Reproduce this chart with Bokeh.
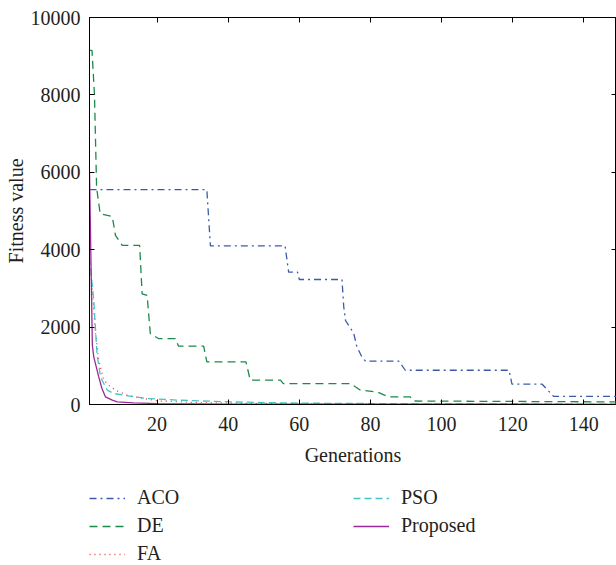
from bokeh.plotting import figure
from bokeh.models import Range1d, LinearAxis, FixedTicker, Legend, LegendItem
from bokeh.layouts import column
from bokeh.embed import file_html
from bokeh.resources import INLINE

# ---- data ----
aco_x = [1, 34, 35, 56, 57, 59.5, 60, 72, 72.5, 73, 75.3, 76.2, 77.6, 78.6, 88, 89.8, 119, 119.8, 128.3, 131.5, 150]
aco_y = [5550, 5550, 4100, 4100, 3420, 3420, 3230, 3230, 2520, 2170, 1840, 1490, 1230, 1120, 1120, 885, 885, 525, 525, 210, 210]

de_x = [1, 1.7, 2.4, 3, 4, 7.4, 8.3, 10.2, 15.1, 15.8, 17.2, 18.1, 20.5, 25.2, 26, 33.1, 34, 45, 46.2, 54.7, 55.5, 74.4, 77.2, 81.9, 85.1, 91.2, 92.2, 150]
de_y = [9150, 9150, 8000, 5600, 4930, 4860, 4370, 4110, 4110, 2860, 2820, 1830, 1700, 1700, 1510, 1510, 1100, 1100, 630, 630, 540, 540, 370, 325, 196, 196, 90, 67]

fa_x = [1, 2.7, 3.6, 5, 6.9, 8.8, 11.6, 16.2, 20, 30, 40, 60, 80, 100, 150]
fa_y = [3900, 1830, 1140, 630, 455, 350, 240, 155, 95, 55, 35, 20, 12, 8, 5]

pso_x = [1, 2.2, 3.1, 4.1, 6, 7.8, 10.6, 17.2, 26.6, 40.6, 60, 80, 100, 150]
pso_y = [3780, 2690, 1320, 710, 370, 285, 240, 155, 110, 67, 35, 25, 15, 10]

prop_x = [1, 1.8, 2.2, 3.6, 4.5, 5.5, 7.4, 8.8, 13.4, 20, 40, 150]
prop_y = [6000, 1530, 1230, 713, 413, 196, 111, 67, 41, 25, 12, 5]

series_names = ["ACO", "DE", "FA", "PSO", "Proposed"]
x_ticks = [20, 40, 60, 80, 100, 120, 140]
y_ticks = [0, 2000, 4000, 6000, 8000, 10000]

FONT = "Liberation Serif"
TXT = "#231f20"
styles = {
    "ACO": dict(line_color="#3b5ba9", line_width=1.3, line_dash="7 4 2 4"),
    "DE": dict(line_color="#1b8a4a", line_width=1.3, line_dash="8 5"),
    "FA": dict(line_color="#ee3a3a", line_width=1.3, line_dash="1 4"),
    "PSO": dict(line_color="#45c3c6", line_width=1.3, line_dash="7 4"),
    "Proposed": dict(line_color="#9b2a96", line_width=1.3, line_dash="solid"),
}
data = {"ACO": (aco_x, aco_y), "DE": (de_x, de_y), "FA": (fa_x, fa_y),
        "PSO": (pso_x, pso_y), "Proposed": (prop_x, prop_y)}

p = figure(width=616, height=472, output_backend="svg", toolbar_location=None,
           x_range=Range1d(1, 149.2), y_range=Range1d(0, 10000),
           min_border_left=89, min_border_right=0, min_border_top=17, min_border_bottom=68)
p.grid.visible = False
p.outline_line_color = "black"
p.outline_line_width = 1
p.background_fill_color = "white"
p.border_fill_color = "white"

for ax in [p.xaxis[0], p.yaxis[0]]:
    ax.major_tick_in = 5
    ax.major_tick_out = 0
    ax.minor_tick_line_color = None
    ax.axis_line_color = "black"
    ax.major_tick_line_color = "black"
    ax.major_label_text_font = FONT
    ax.major_label_text_font_size = "20px"
    ax.major_label_text_color = TXT
    ax.axis_label_text_font = FONT
    ax.axis_label_text_font_size = "20px"
    ax.axis_label_text_font_style = "normal"
    ax.axis_label_text_color = TXT

p.xaxis[0].ticker = FixedTicker(ticks=x_ticks)
p.yaxis[0].ticker = FixedTicker(ticks=y_ticks)
p.xaxis[0].axis_label = "Generations"
p.yaxis[0].axis_label = "Fitness value"
p.xaxis[0].major_label_standoff = 12
p.xaxis[0].axis_label_standoff = 10
p.yaxis[0].major_label_standoff = 9
p.yaxis[0].axis_label_standoff = 1

top = LinearAxis(ticker=FixedTicker(ticks=x_ticks), major_tick_in=5, major_tick_out=0,
                 minor_tick_line_color=None, major_label_text_font_size="0px",
                 major_label_text_color=None, major_label_standoff=0)
p.add_layout(top, "above")
right = LinearAxis(ticker=FixedTicker(ticks=y_ticks), major_tick_in=5, major_tick_out=0,
                   minor_tick_line_color=None, major_label_text_font_size="0px",
                   major_label_text_color=None, major_label_standoff=0)
p.add_layout(right, "right")

for name in series_names:
    xs, ys = data[name]
    p.line(xs, ys, **styles[name])

# ---- legend strip below the plot (its frame is aligned with the main frame) ----
lf = figure(width=616, height=93, output_backend="svg", toolbar_location=None,
            x_range=Range1d(-10, -9), y_range=Range1d(-10, -9),
            min_border_left=0, min_border_right=0, min_border_top=0, min_border_bottom=0)
lf.axis.visible = False
lf.grid.visible = False
lf.outline_line_color = None
lf.background_fill_color = "white"
lf.border_fill_color = "white"

leg_r = {}
for name in series_names:
    xs, ys = data[name]
    leg_r[name] = lf.line(xs, ys, **styles[name])   # outside the visible range; legend swatches only

def mk_legend(names, loc):
    lg = Legend(items=[LegendItem(label=n, renderers=[leg_r[n]]) for n in names],
                location=loc, orientation="vertical")
    lg.background_fill_alpha = 0
    lg.border_line_alpha = 0
    lg.label_text_font = FONT
    lg.label_text_font_size = "20px"
    lg.label_text_color = TXT
    lg.glyph_width = 36
    lg.glyph_height = 20
    lg.label_height = 20
    lg.label_standoff = 12
    lg.spacing = 5
    lg.padding = 0
    lg.margin = 0
    return lg

lf.add_layout(mk_legend(series_names[:3], (0, 0)), "center")
lf.add_layout(mk_legend(series_names[3:], (264, 28)), "center")

layout = column(p, lf, spacing=0)
open("out.html", "w").write(file_html(layout, INLINE))
